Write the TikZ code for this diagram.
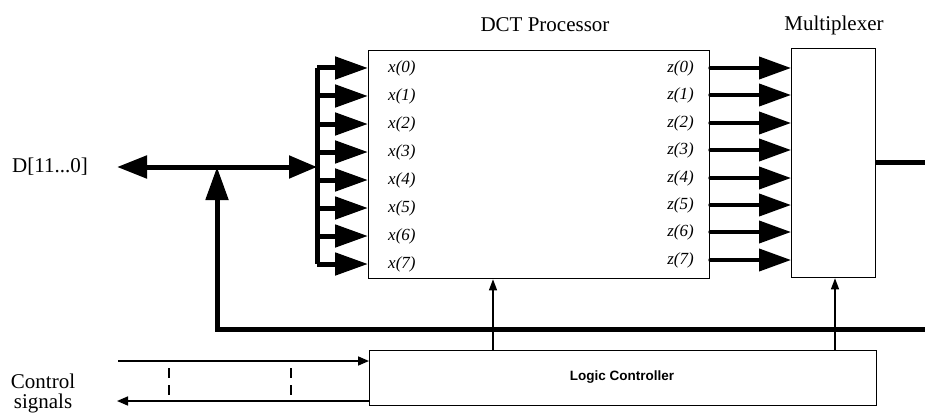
\documentclass[tikz,border=0pt]{standalone}
\usepackage{fontspec}
\setmainfont{Liberation Serif}
\setsansfont{Liberation Sans}
\usetikzlibrary{arrows.meta}
\begin{document}
\begin{tikzpicture}[x=1pt,y=-1pt,
  box/.style={draw, line width=1.3pt, inner sep=0pt, anchor=north west},
  bus/.style={line width=5pt},
  bighead/.style={-{Triangle[length=33pt 0 0,width=22pt 0 0]}},
  zarrow/.style={line width=4pt, line cap=round, -{Triangle[length=32pt 0 0,width=22pt 0 0]}},
  thinarrow/.style={line width=1.2pt, -{Triangle[length=11pt 0 0,width=8pt 0 0]}},
  ctrlarrow/.style={line width=1.6pt, -{Triangle[length=11pt 0 0,width=9pt 0 0]}},
  lbl/.style={font=\fontsize{21}{24}\selectfont, inner sep=0pt},
  pin/.style={font=\fontsize{17}{20}\selectfont\itshape, inner sep=0pt},
  tick/.style={line width=1.6pt},
]
\useasboundingbox (0,0) rectangle (925,417);

% boxes
\node[box, minimum width=341pt, minimum height=228pt] (dct) at (368,50) {};
\node[box, minimum width=84pt, minimum height=229pt] (mux) at (791,48) {};
\node[box, minimum width=507pt, minimum height=55pt] (lc) at (369,350) {};

% titles
\node[lbl] (dcttitle) at (545,25) {DCT Processor};
\node[lbl] (muxtitle) at (834,25) {Multiplexer};
\node[font=\sffamily\bfseries\fontsize{13.5}{16}\selectfont, inner sep=0pt] (lctext) at (622,377) {Logic Controller};
\node[lbl] (dlabel) at (50,167) {D[11...0]};
\node[lbl] (ctrl1) at (43,381) {Control};
\node[lbl] (ctrl2) at (43,403) {signals};

% input bus
\coordinate (bustop) at (317,68);
\coordinate (busbot) at (317,264);
\coordinate (busmid) at (317,167);
\coordinate (dleft) at (117,167);
\coordinate (tj) at (217,167);
\coordinate (bcorner) at (217,329);
\coordinate (bend) at (925,329);

\draw[bus, line join=round] (bustop) -- (busbot);
\foreach \i/\yy in {0/68,1/96,2/124,3/152,4/180,5/208,6/236,7/264}{
  \node[pin, anchor=west] (x\i) at (388,\yy) {x(\i)};
  \coordinate (xb\i) at (317,\yy);
  \draw[bus, bighead] (xb\i) -- (dct.west |- x\i);
}
\foreach \i/\yy in {0/68,1/95,2/123,3/150,4/178,5/205,6/232,7/260}{
  \node[pin, anchor=east] (z\i) at (694,\yy) {z(\i)};
  \coordinate (zs\i) at (dct.east |- z\i);
  \draw[zarrow] (zs\i) -- (mux.west |- z\i);
}

% D bus
\draw[bus, {Triangle[length=30pt 0 0,width=22pt 0 0]}-{Triangle[length=28pt 0 0,width=22pt 0 0]}] (dleft) -- (busmid);
\draw[bus, line join=miter, -{Triangle[length=33pt 0 0,width=22pt 0 0]}] (bend) -- (bcorner) -- (tj);

% mux output
\coordinate (muxout) at (925,162);
\draw[bus] (mux.east |- muxout) -- (muxout);

% control arrows to DCT and mux
\draw[thinarrow] (lc.north -| 493,0) -- (dct.south -| 493,0);
\draw[thinarrow] (lc.north -| 835,0) -- (mux.south -| 835,0);

% control signals
\coordinate (cin) at (118,361);
\coordinate (cout) at (117,401);
\draw[ctrlarrow] (cin) -- (lc.west |- cin);
\draw[ctrlarrow] (lc.west |- cout) -- (cout);

% dashed marks
\foreach \xx in {169,291}{
  \draw[tick] (\xx,368) -- (\xx,378);
  \draw[tick] (\xx,385) -- (\xx,395);
}
\end{tikzpicture}
\end{document}
